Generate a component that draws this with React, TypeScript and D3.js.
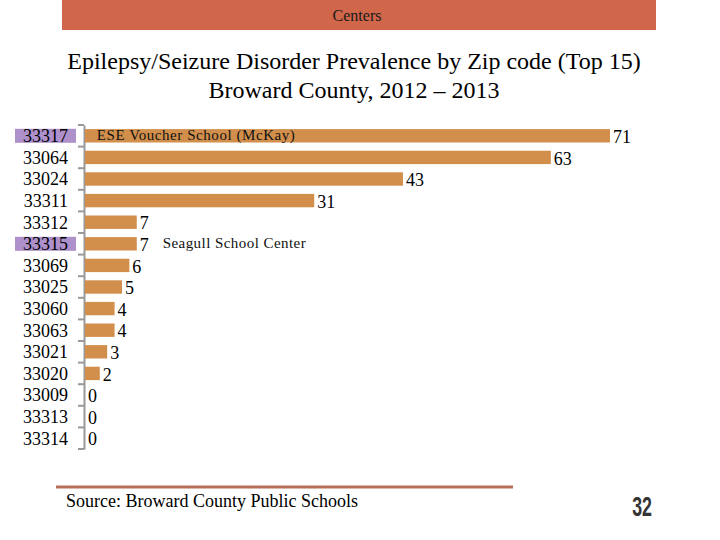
import * as d3 from 'd3'
import { useRef, useEffect } from 'react'

const zipCodes = [
  '33317', '33064', '33024', '33311', '33312', '33315', '33069', '33025',
  '33060', '33063', '33021', '33020', '33009', '33313', '33314',
]
const counts = [71, 63, 43, 31, 7, 7, 6, 5, 4, 4, 3, 2, 0, 0, 0]
const highlighted = ['33317', '33315']
const notes = [
  { zip: '33317', text: 'ESE Voucher School (McKay)', at: 1.6, len: 198 },
  { zip: '33315', text: 'Seagull School Center', at: 10.5, len: 143 },
]

const W = 720
const H = 540
const serif = '"Liberation Serif", "Times New Roman", serif'

const App = () => {
  const chartSvg = useRef(null)

  useEffect(() => {
    const svg = d3.select(chartSvg.current)
    svg.selectAll('*').remove() // clear

    const rows = zipCodes.map((zip, i) => ({ zip, value: counts[i] }))

    // header band
    svg.append('rect').attr('x', 62).attr('y', 0).attr('width', 594).attr('height', 30).attr('fill', '#D0664A')
    svg.append('text').attr('x', 357).attr('y', 21).attr('text-anchor', 'middle')
      .attr('font-family', serif).attr('font-size', 16).attr('fill', '#1a1a1a').text('Centers')

    // title
    const title = svg.append('text').attr('text-anchor', 'middle').attr('font-family', serif)
      .attr('font-size', 24).attr('fill', '#000')
    title.append('tspan').attr('x', 354).attr('y', 69).text('Epilepsy/Seizure Disorder Prevalence by Zip code (Top 15)')
    title.append('tspan').attr('x', 354).attr('y', 98).text('Broward County, 2012 – 2013')

    const x0 = 85
    const yScale = d3.scaleBand().domain(zipCodes).range([125, 449]).paddingInner(0.38).paddingOuter(0.19)
    const xScale = d3.scaleLinear().domain([0, 71]).range([x0, 610])
    const step = yScale.step()

    // highlight boxes behind selected zip codes
    svg.append('g').selectAll('rect').data(highlighted).enter().append('rect')
      .attr('x', 15)
      .attr('y', d => yScale(d) + yScale.bandwidth() / 2 - 7)
      .attr('width', 61)
      .attr('height', 14)
      .attr('fill', '#AE90CB')

    // category axis
    const axis = svg.append('g').attr('transform', `translate(${x0 - 1},0)`)
      .call(d3.axisLeft(yScale).tickSize(0).tickPadding(16))
    axis.attr('font-family', serif).attr('font-size', 18)
    axis.select('.domain').attr('stroke', '#999').attr('stroke-width', 2)
    axis.selectAll('text').attr('fill', '#000').attr('dy', '0.36em')
    // tick marks sit between the categories
    const bounds = d3.range(zipCodes.length + 1).map(i => 125 + i * step)
    svg.append('g').selectAll('line').data(bounds).enter().append('line')
      .attr('x1', x0 - 7).attr('x2', x0 - 1)
      .attr('y1', d => d).attr('y2', d => d)
      .attr('stroke', '#999').attr('stroke-width', 2)

    // bars
    svg.append('g').selectAll('rect').data(rows).enter().append('rect')
      .attr('x', x0)
      .attr('y', d => yScale(d.zip))
      .attr('width', d => xScale(d.value) - x0)
      .attr('height', yScale.bandwidth())
      .attr('fill', '#D28F4C')

    // value labels
    svg.append('g').selectAll('text').data(rows).enter().append('text')
      .attr('x', d => xScale(d.value) + 3)
      .attr('y', d => yScale(d.zip) + yScale.bandwidth() / 2)
      .attr('dy', '0.4em')
      .attr('font-family', serif).attr('font-size', 18).attr('fill', '#000')
      .text(d => d.value)

    // notes next to the highlighted zip codes
    svg.append('g').selectAll('text').data(notes).enter().append('text')
      .attr('x', d => xScale(d.at))
      .attr('y', d => yScale(d.zip) + yScale.bandwidth() / 2)
      .attr('dy', '0.3em')
      .attr('textLength', d => d.len)
      .attr('font-family', serif).attr('font-size', 15).attr('fill', '#111')
      .text(d => d.text)

    // footer
    svg.append('line').attr('x1', 56).attr('x2', 513).attr('y1', 487).attr('y2', 487)
      .attr('stroke', '#B86E58').attr('stroke-width', 3)
    svg.append('text').attr('x', 66).attr('y', 507).attr('font-family', serif).attr('font-size', 18)
      .attr('fill', '#000').text('Source: Broward County Public Schools')
    svg.append('text').attr('transform', 'translate(652,516) scale(0.66,1)').attr('text-anchor', 'end')
      .attr('font-family', '"Liberation Sans", Arial, sans-serif')
      .attr('font-weight', 'bold').attr('font-size', 27).attr('fill', '#333').text('32')
  }, [])

  return (
    <svg ref={chartSvg} width={W} height={H}
      style={{ position: 'absolute', left: 0, top: 0, background: '#fff' }}></svg>
  )
}

export default App
